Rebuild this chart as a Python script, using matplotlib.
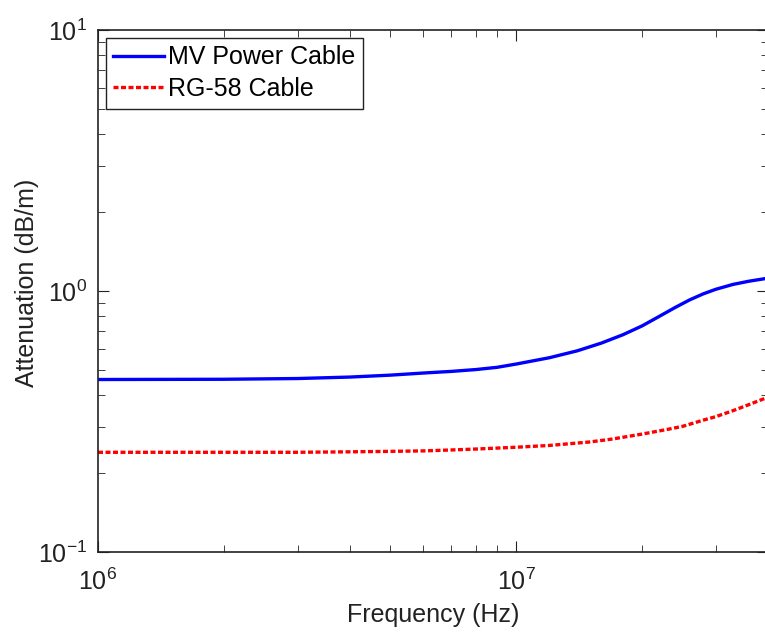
import numpy as np
import matplotlib
matplotlib.use('Agg')
from matplotlib import pyplot as plt

# attenuation vs frequency for the two cables
freq_mv = np.array([1e6, 2e6, 3e6, 4e6, 5e6, 6e6, 7e6, 8e6, 9e6, 1e7,
                    1.2e7, 1.4e7, 1.6e7, 1.8e7, 2e7, 2.2e7, 2.4e7, 2.6e7,
                    2.8e7, 3e7, 3.3e7, 3.6e7, 4e7])
atten_mv = np.array([0.458, 0.459, 0.462, 0.468, 0.476, 0.485, 0.492, 0.500,
                     0.510, 0.525, 0.555, 0.590, 0.632, 0.680, 0.735, 0.800,
                     0.865, 0.925, 0.975, 1.015, 1.060, 1.090, 1.120])

freq_rg = np.array([1e6, 2e6, 3e6, 4e6, 5e6, 6e6, 7e6, 8e6, 1e7, 1.2e7,
                    1.5e7, 1.7e7, 2e7, 2.3e7, 2.5e7, 2.8e7, 3e7, 3.3e7,
                    3.6e7, 4e7])
atten_rg = np.array([0.241, 0.241, 0.241, 0.242, 0.243, 0.244, 0.246, 0.248,
                     0.252, 0.256, 0.264, 0.271, 0.283, 0.295, 0.303, 0.320,
                     0.330, 0.348, 0.367, 0.392])

plt.rcParams['font.family'] = ['Liberation Sans', 'DejaVu Sans']
plt.rcParams['font.size'] = 18
plt.rcParams['axes.unicode_minus'] = False
plt.rcParams['mathtext.fontset'] = 'custom'
plt.rcParams['mathtext.rm'] = 'Liberation Sans'

fig = plt.figure(figsize=(7.65, 6.32), dpi=100)
ax = fig.add_axes([98/765, 80/632, 670/765, 522/632])

ax.loglog(freq_mv, atten_mv, color='#0000ff', lw=2.4, label='MV Power Cable')
ax.loglog(freq_rg, atten_rg, color='#ff0000', lw=2.4, ls=(0, (1.5, 0.75)),
          label='RG-58 Cable')

ax.set_xlim(1e6, 4e7)
ax.set_ylim(0.1, 10)
ax.set_xlabel('Frequency (Hz)', color='#222222', labelpad=6)
ax.set_ylabel('Attenuation (dB/m)', color='#222222')
ax.yaxis.set_label_coords(-0.088, 0.515)

ax.tick_params(which='both', direction='in', top=True, right=True,
               labelsize=18, colors='#222222')
ax.tick_params(which='major', length=8, pad=8)
ax.tick_params(which='minor', length=5)
ax.tick_params(axis='x', which='major', pad=12)
ax.spines['right'].set_visible(False)
for s in ['left', 'top', 'bottom']:
    ax.spines[s].set_linewidth(1.2)
    ax.spines[s].set_color('#222222')

leg = ax.legend(loc='upper left', fancybox=False, framealpha=1,
                edgecolor='#222222', handlelength=2.0, borderaxespad=0.32,
                handletextpad=0.2, borderpad=0.3, labelspacing=0.3,
                fontsize=18)
leg.get_frame().set_linewidth(1.0)

fig.savefig('out.png', dpi=100)
